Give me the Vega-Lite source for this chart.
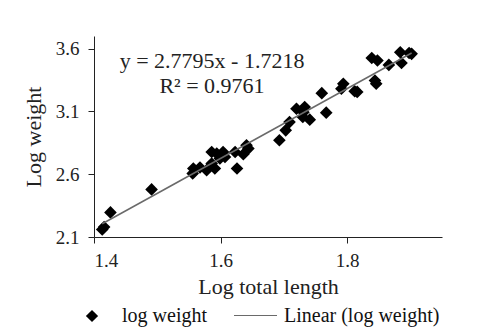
{
  "$schema": "https://vega.github.io/schema/vega-lite/v6.json",
  "width": 348,
  "height": 201,
  "autosize": "none",
  "padding": {"left": 94, "top": 36, "right": 39, "bottom": 94},
  "config": {
    "view": {"stroke": null},
    "font": "Liberation Serif",
    "axis": {
      "grid": false,
      "domainColor": "#222222",
      "tickColor": "#222222",
      "domainWidth": 1,
      "tickWidth": 1,
      "tickSize": 6,
      "labelColor": "#222222",
      "titleColor": "#222222",
      "labelFont": "Liberation Serif",
      "titleFont": "Liberation Serif",
      "labelFontSize": 19,
      "titleFontSize": 22,
      "titleFontWeight": "normal"
    }
  },
  "layer": [
    {
      "data": {
        "values": [
          {"log_length": 1.413, "log_weight": 2.16, "series": "log weight"},
          {"log_length": 1.416, "log_weight": 2.18, "series": "log weight"},
          {"log_length": 1.426, "log_weight": 2.296, "series": "log weight"},
          {"log_length": 1.491, "log_weight": 2.479, "series": "log weight"},
          {"log_length": 1.556, "log_weight": 2.606, "series": "log weight"},
          {"log_length": 1.557, "log_weight": 2.645, "series": "log weight"},
          {"log_length": 1.5675, "log_weight": 2.653, "series": "log weight"},
          {"log_length": 1.578, "log_weight": 2.632, "series": "log weight"},
          {"log_length": 1.586, "log_weight": 2.685, "series": "log weight"},
          {"log_length": 1.591, "log_weight": 2.645, "series": "log weight"},
          {"log_length": 1.586, "log_weight": 2.777, "series": "log weight"},
          {"log_length": 1.594, "log_weight": 2.764, "series": "log weight"},
          {"log_length": 1.599, "log_weight": 2.725, "series": "log weight"},
          {"log_length": 1.604, "log_weight": 2.777, "series": "log weight"},
          {"log_length": 1.607, "log_weight": 2.737, "series": "log weight"},
          {"log_length": 1.623, "log_weight": 2.777, "series": "log weight"},
          {"log_length": 1.626, "log_weight": 2.645, "series": "log weight"},
          {"log_length": 1.636, "log_weight": 2.759, "series": "log weight"},
          {"log_length": 1.641, "log_weight": 2.83, "series": "log weight"},
          {"log_length": 1.644, "log_weight": 2.804, "series": "log weight"},
          {"log_length": 1.693, "log_weight": 2.87, "series": "log weight"},
          {"log_length": 1.703, "log_weight": 2.949, "series": "log weight"},
          {"log_length": 1.709, "log_weight": 3.015, "series": "log weight"},
          {"log_length": 1.72, "log_weight": 3.121, "series": "log weight"},
          {"log_length": 1.731, "log_weight": 3.094, "series": "log weight"},
          {"log_length": 1.733, "log_weight": 3.134, "series": "log weight"},
          {"log_length": 1.741, "log_weight": 3.034, "series": "log weight"},
          {"log_length": 1.73, "log_weight": 3.055, "series": "log weight"},
          {"log_length": 1.76, "log_weight": 3.245, "series": "log weight"},
          {"log_length": 1.767, "log_weight": 3.09, "series": "log weight"},
          {"log_length": 1.791, "log_weight": 3.28, "series": "log weight"},
          {"log_length": 1.794, "log_weight": 3.32, "series": "log weight"},
          {"log_length": 1.812, "log_weight": 3.26, "series": "log weight"},
          {"log_length": 1.816, "log_weight": 3.255, "series": "log weight"},
          {"log_length": 1.839, "log_weight": 3.525, "series": "log weight"},
          {"log_length": 1.848, "log_weight": 3.505, "series": "log weight"},
          {"log_length": 1.844, "log_weight": 3.346, "series": "log weight"},
          {"log_length": 1.846, "log_weight": 3.32, "series": "log weight"},
          {"log_length": 1.866, "log_weight": 3.47, "series": "log weight"},
          {"log_length": 1.884, "log_weight": 3.571, "series": "log weight"},
          {"log_length": 1.886, "log_weight": 3.485, "series": "log weight"},
          {"log_length": 1.902, "log_weight": 3.558, "series": "log weight"},
          {"log_length": 1.898, "log_weight": 3.565, "series": "log weight"}
        ]
      },
      "mark": {"type": "point", "shape": "diamond", "filled": true, "color": "black", "opacity": 1, "size": 160},
      "encoding": {
        "x": {
          "field": "log_length", "type": "quantitative",
          "scale": {"domain": [1.4, 1.95], "nice": false, "zero": false},
          "axis": {"values": [1.4, 1.6, 1.8], "format": ".1f", "title": "Log total length", "labelPadding": 8, "titlePadding": 6}
        },
        "y": {
          "field": "log_weight", "type": "quantitative",
          "scale": {"domain": [2.1, 3.7], "nice": false, "zero": false},
          "axis": {"values": [2.1, 2.6, 3.1, 3.6], "format": ".1f", "title": "Log weight", "labelPadding": 9, "titlePadding": 10}
        },
        "shape": {
          "field": "series", "type": "nominal",
          "scale": {"range": ["diamond"]},
          "legend": {
            "orient": "none", "legendX": -12, "legendY": 270, "title": null, "padding": 0,
            "labelFontSize": 20, "labelFont": "Liberation Serif", "labelColor": "#111111",
            "symbolSize": 150, "symbolFillColor": "black", "symbolStrokeColor": "black", "symbolStrokeWidth": 0,
            "labelOffset": 20, "labelLimit": 300
          }
        }
      }
    },
    {
      "data": {
        "values": [
          {"log_length": 1.413, "log_weight": 2.2056, "series": "Linear (log weight)"},
          {"log_length": 1.902, "log_weight": 3.5648, "series": "Linear (log weight)"}
        ]
      },
      "mark": {"type": "line", "strokeWidth": 1.5},
      "encoding": {
        "x": {"field": "log_length", "type": "quantitative"},
        "y": {"field": "log_weight", "type": "quantitative"},
        "color": {
          "field": "series", "type": "nominal",
          "scale": {"range": ["#6a6a6a"]},
          "legend": {
            "orient": "none", "legendX": 139, "legendY": 257, "title": null, "padding": 0,
            "labelFontSize": 20, "labelFont": "Liberation Serif", "labelColor": "#111111",
            "symbolType": "stroke", "symbolSize": 1849, "symbolStrokeWidth": 1.2,
            "labelOffset": 6, "labelLimit": 300
          }
        }
      }
    },
    {
      "data": {"values": [{"label": "y = 2.7795x - 1.7218\nR² = 0.9761"}]},
      "mark": {"type": "text", "font": "Liberation Serif", "fontSize": 22, "align": "center", "baseline": "middle", "lineBreak": "\n", "lineHeight": 25, "color": "#222222"},
      "encoding": {
        "x": {"datum": 1.5865},
        "y": {"datum": 3.5},
        "text": {"field": "label"}
      }
    }
  ]
}
